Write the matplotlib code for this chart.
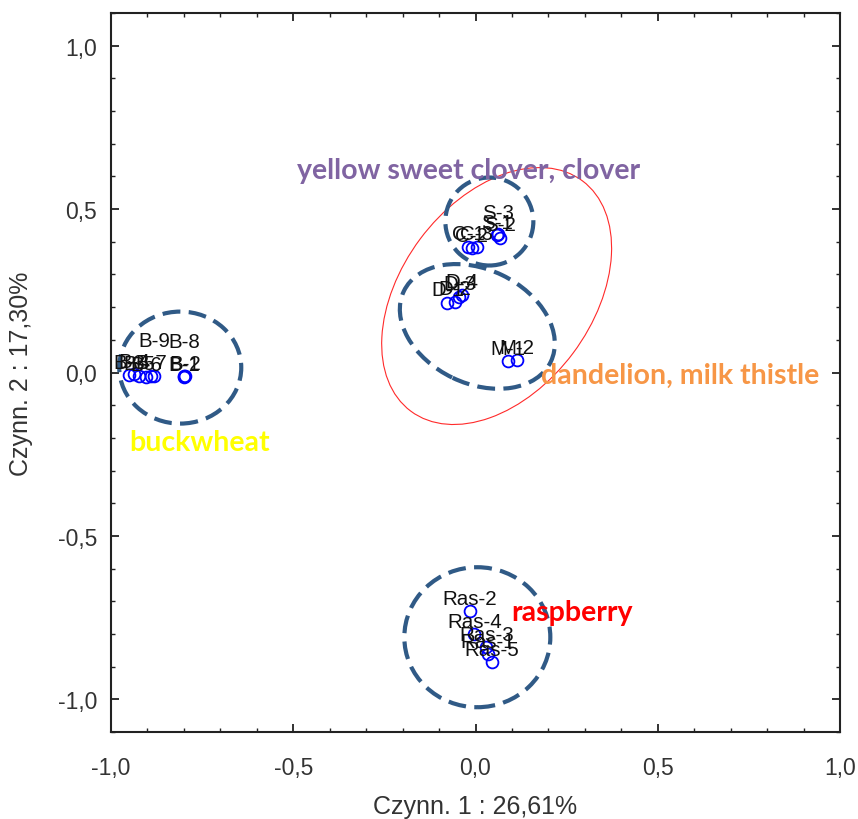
import matplotlib
matplotlib.use("Agg")
import matplotlib.pyplot as plt
from matplotlib.patches import Ellipse
from matplotlib.transforms import ScaledTranslation
from matplotlib.ticker import MultipleLocator, FuncFormatter

# ----------------------------------------------------------------------
# Data (factor scores)
# ----------------------------------------------------------------------
names = ["B-3", "B-4", "B-5", "B-6", "B-7", "B-9", "B-1", "B-2", "B-8",
         "C-1", "C-2", "C-3", "S-1", "S-2", "S-3",
         "D-1", "D-2", "D-3", "D-4", "M-1", "M-2",
         "Ras-2", "Ras-4", "Ras-3", "Ras-1", "Ras-5"]
factor1 = [-0.951, -0.937, -0.923, -0.904, -0.890, -0.882, -0.800, -0.797, -0.800,
           -0.020, -0.010, 0.003, 0.060, 0.066, 0.063,
           -0.077, -0.057, -0.044, -0.038, 0.088, 0.113,
           -0.016, -0.003, 0.030, 0.033, 0.044]
factor2 = [-0.009, -0.006, -0.012, -0.015, -0.010, -0.010, -0.014, -0.011, -0.012,
           0.385, 0.380, 0.385, 0.420, 0.412, 0.425,
           0.214, 0.217, 0.232, 0.238, 0.035, 0.037,
           -0.731, -0.801, -0.840, -0.862, -0.887]
# extra upward shift of a few labels (pixels)
label_lift = {"B-9": 22, "B-8": 22, "S-3": 8}

# group outlines: centre (data units), semi-axes (px), angle (deg)
group_cx = [-0.810, 0.038, 0.005, 0.005]
group_cy = [0.015, 0.462, 0.141, -0.810]
group_a = [61, 44, 81.5, 73]
group_b = [56, 44, 57, 70]
group_angle = [0, 0, -25.7, 0]

# thin red outline around clover + dandelion groups
red_cx, red_cy, red_a, red_b, red_angle = 0.058, 0.234, 143.6, 95.4, 53.3

group_names = ["yellow sweet clover, clover", "dandelion, milk thistle",
               "buckwheat", "raspberry"]
group_colors = ["#8064a2", "#f79646", "#ffff00", "#ff0000"]
name_x = [-0.489, 0.181, -0.951, 0.099]
name_y = [0.621, -0.006, -0.214, -0.734]

x_label = "Czynn. 1 : 26,61%"
y_label = "Czynn. 2 : 17,30%"

# ----------------------------------------------------------------------
# Plot
# ----------------------------------------------------------------------
fig = plt.figure(figsize=(8.58, 8.20), dpi=100)
ax = fig.add_axes([111 / 858, 87 / 820, 729 / 858, 719 / 820])

ax.plot(factor1, factor2, linestyle="none", marker="o", markersize=8.5,
        markerfacecolor="none", markeredgecolor="#0000ff", markeredgewidth=1.3,
        zorder=4)

for name, x, y in zip(names, factor1, factor2):
    lift = label_lift.get(name, 0)
    ax.annotate(name, (x, y), xytext=(0, (13 + lift) * 0.72),
                textcoords="offset points", ha="center", va="center",
                fontsize=14.8, color="#111111", family="Liberation Sans", zorder=5)


def outline(cx, cy, a, b, angle, **kw):
    trans = fig.dpi_scale_trans + ScaledTranslation(cx, cy, ax.transData)
    e = Ellipse((0, 0), 2 * a / 100, 2 * b / 100, angle=angle,
                transform=trans, fill=False, **kw)
    ax.add_patch(e)


for cx, cy, a, b, ang in zip(group_cx, group_cy, group_a, group_b, group_angle):
    outline(cx, cy, a, b, ang, edgecolor="#305a86", linewidth=3.0,
            linestyle=(0, (4.3, 2)), zorder=3)

outline(red_cx, red_cy, red_a, red_b, red_angle, edgecolor="#ff2a2a",
        linewidth=0.8, zorder=2)

for txt, col, x, y in zip(group_names, group_colors, name_x, name_y):
    ax.text(x, y, txt, color=col, fontsize=20.5, fontweight="bold",
            family="Lato", ha="left", va="center", zorder=6)

ax.set_xlim(-1.0, 1.0)
ax.set_ylim(-1.1, 1.1)
ax.xaxis.set_major_locator(MultipleLocator(0.5))
ax.xaxis.set_minor_locator(MultipleLocator(0.1))
ax.yaxis.set_major_locator(MultipleLocator(0.5))
ax.yaxis.set_minor_locator(MultipleLocator(0.1))
comma = FuncFormatter(lambda v, p: f"{v:.1f}".replace(".", ",").replace("-0,0", "0,0"))
ax.xaxis.set_major_formatter(comma)
ax.yaxis.set_major_formatter(comma)

ax.tick_params(which="both", direction="in", top=True, right=True,
               colors="#222222", labelcolor="#333333", labelsize=16.5)
ax.tick_params(which="major", length=6, width=1.3)
ax.tick_params(which="minor", length=3, width=1.0)
ax.tick_params(axis="x", pad=17)
ax.tick_params(axis="y", pad=10)
for lab in ax.get_xticklabels() + ax.get_yticklabels():
    lab.set_family("Liberation Sans")
for s in ax.spines.values():
    s.set_linewidth(1.5)
    s.set_color("#222222")

ax.set_xlabel(x_label, fontsize=18, color="#333333", family="Liberation Sans",
              labelpad=11)
ax.set_ylabel(y_label, fontsize=18, color="#333333", family="Liberation Sans",
              labelpad=18)

fig.savefig("out.png", dpi=100)
